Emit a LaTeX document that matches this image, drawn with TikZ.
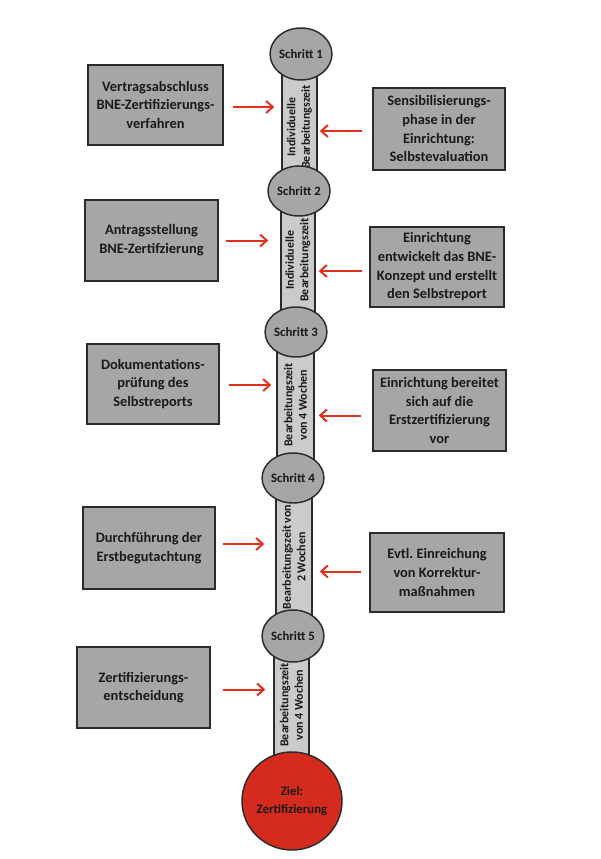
\documentclass[tikz,border=0pt]{standalone}
\usepackage{fontspec}
\setmainfont{Carlito}
\usetikzlibrary{arrows.meta,shapes.geometric,calc}
\frenchspacing
\definecolor{boxgray}{HTML}{A6A6A6}
\definecolor{bargray}{HTML}{CBCBCB}
\definecolor{edgedark}{HTML}{2B2B2B}
\definecolor{zielred}{HTML}{D42B1E}
\definecolor{arrred}{HTML}{E0301E}
\definecolor{txtdark}{HTML}{1A1A1A}
\begin{document}
\begin{tikzpicture}[x=0.75pt,y=-0.75pt,
  stepbox/.style={draw=edgedark,line width=1.1pt,fill=boxgray,rectangle,inner sep=2pt,
    align=center,text=txtdark,font=\fontsize{10.8pt}{14pt}\selectfont\bfseries},
  barbox/.style={draw=edgedark,line width=1.1pt,fill=bargray,rectangle,inner sep=0pt},
  barlabel/.style={rotate=90,align=center,text=txtdark,inner sep=0pt,
    font=\fontsize{9pt}{10.8pt}\selectfont\bfseries},
  stepcirc/.style={draw=edgedark,line width=1.1pt,fill=boxgray,ellipse,inner sep=0pt,
    text=txtdark,font=\fontsize{9.6pt}{11pt}\selectfont\bfseries},
  arr/.style={draw=arrred,line width=1.5pt,-{Straight Barb[length=5pt,width=9pt]}}]
\path[fill=white] (0,0) rectangle (600,859);
\useasboundingbox (0,0) rectangle (600,859);

% bars
\node[barbox,minimum width=26.25pt,minimum height=78.75pt] (bar1) at (299.5,122) {};
\node[barbox,minimum width=25.5pt,minimum height=90pt] (bar2) at (298,260) {};
\node[barbox,minimum width=27.75pt,minimum height=90pt] (bar3) at (295.5,405) {};
\node[barbox,minimum width=27pt,minimum height=93.75pt] (bar4) at (294,557) {};
\node[barbox,minimum width=26.25pt,minimum height=82.5pt] (bar5) at (291.5,705) {};

\node[barlabel] (l1) at ($(bar1)+(0,5)$) {Individuelle\\Bearbeitungszeit};
\node[barlabel] (l2) at (bar2) {Individuelle\\Bearbeitungszeit};
\node[barlabel] (l3) at (bar3) {Bearbeitungszeit\\von 4 Wochen};
\node[barlabel] (l4) at (bar4) {Bearbeitungszeit von\\2 Wochen};
\node[barlabel] (l5) at (bar5) {Bearbeitungszeit\\von 4 Wochen};

% circles
\node[stepcirc,minimum width=45.75pt,minimum height=39pt] (s1) at (301,54) {Schritt 1};
\node[stepcirc,minimum width=46.5pt,minimum height=37.5pt] (s2) at (299,191) {Schritt 2};
\node[stepcirc,minimum width=45.75pt,minimum height=37.5pt] (s3) at (296,332) {Schritt 3};
\node[stepcirc,minimum width=45pt,minimum height=37.5pt] (s4) at (293,478) {Schritt 4};
\node[stepcirc,minimum width=45pt,minimum height=39pt] (s5) at (293,636) {Schritt 5};
\node[stepcirc,fill=zielred,align=center,minimum width=75pt,minimum height=73.5pt,
  font=\fontsize{9.6pt}{14pt}\selectfont\bfseries] (ziel) at (292,801) {Ziel:\\Zertifizierung};

% boxes
\node[stepbox,minimum width=101.25pt,minimum height=60pt] (b1) at (155.5,105) {Vertragsabschluss\\BNE-Zertifizierungs-\\verfahren};
\node[stepbox,minimum width=99pt,minimum height=61.5pt] (r1) at (439,129) {Sensibilisierungs-\\phase in der\\Einrichtung:\\Selbstevaluation};
\node[stepbox,minimum width=99.75pt,minimum height=60.75pt] (b2) at (151.5,240.5) {Antragsstellung\\BNE-Zertifzierung};
\node[stepbox,minimum width=100.5pt,minimum height=60pt] (r2) at (437,267) {Einrichtung\\entwickelt das BNE-\\Konzept und erstellt\\den Selbstreport};
\node[stepbox,minimum width=99pt,minimum height=60pt] (b3) at (153,384) {Dokumentations-\\prüfung des\\Selbstreports};
\node[stepbox,minimum width=99.75pt,minimum height=60.75pt] (r3) at (439.5,410.5) {Einrichtung bereitet\\sich auf die\\Erstzertifizierung\\vor};
\node[stepbox,minimum width=99pt,minimum height=61.5pt] (b4) at (149,548) {Durchführung der\\Erstbegutachtung};
\node[stepbox,minimum width=100.5pt,minimum height=59.25pt] (r4) at (437,572.5) {Evtl.\ Einreichung\\von Korrektur-\\maßnahmen};
\node[stepbox,minimum width=99.75pt,minimum height=60.75pt] (b5) at (143.5,687.5) {Zertifizierungs-\\entscheidung};

% arrows
\draw[arr] ($(b1.east)+(9,2)$) -- ($(b1.east -| bar1.west)+(-7,2)$);
\draw[arr] ($(r1.west)+(-10,2)$) -- ($(r1.west -| bar1.east)+(2,2)$);
\draw[arr] ($(b2.east)+(7,0)$) -- ($(b2.east -| bar2.west)+(-12,0)$);
\draw[arr] ($(r2.west)+(-7,4)$) -- ($(r2.west -| bar2.east)+(3,4)$);
\draw[arr] ($(b3.east)+(9,1)$) -- ($(b3.east -| bar3.west)+(-5,1)$);
\draw[arr] ($(r3.west)+(-11,5)$) -- ($(r3.west -| bar3.east)+(4,5)$);
\draw[arr] ($(b4.east)+(7,-4)$) -- ($(b4.east -| bar4.west)+(-11,-4)$);
\draw[arr] ($(r4.west)+(-8,-1)$) -- ($(r4.west -| bar4.east)+(7,-1)$);
\draw[arr] ($(b5.east)+(12,2)$) -- ($(b5.east -| bar5.west)+(-8,2)$);
\end{tikzpicture}
\end{document}
